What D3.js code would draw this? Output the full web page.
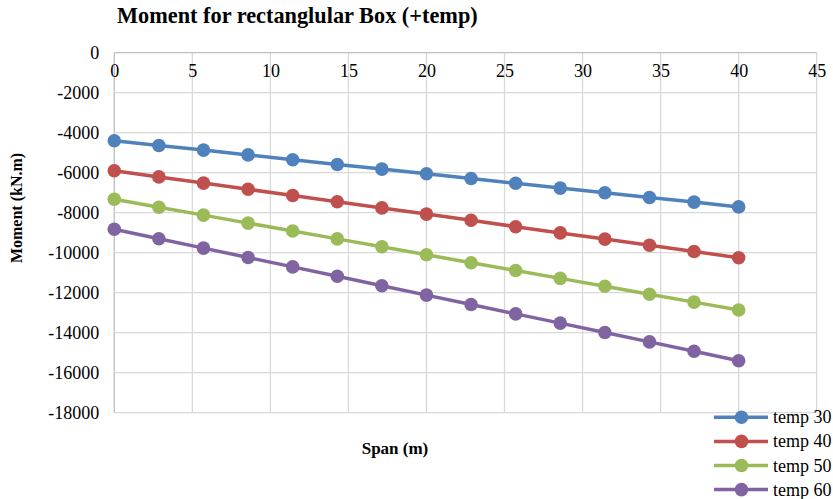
<!DOCTYPE html>
<html><head><meta charset="utf-8">
<script src="https://cdnjs.cloudflare.com/ajax/libs/d3/7.8.5/d3.min.js"></script>
<style>body{margin:0;background:#fff;}svg{display:block;font-family:"Liberation Serif","Times New Roman",serif;}</style>
</head><body>
<svg id="c" width="833" height="499"></svg>
<script>
const span = [0, 2.857, 5.714, 8.571, 11.429, 14.286, 17.143, 20, 22.857, 25.714, 28.571, 31.429, 34.286, 37.143, 40];
const temp30 = [-4400, -4640, -4870, -5110, -5350, -5590, -5820, -6050, -6290, -6530, -6770, -7000, -7240, -7470, -7710];
const temp40 = [-5900, -6210, -6520, -6830, -7140, -7450, -7760, -8070, -8380, -8700, -9010, -9320, -9630, -9940, -10250];
const temp50 = [-7330, -7725, -8120, -8520, -8915, -9310, -9705, -10100, -10500, -10890, -11285, -11680, -12075, -12470, -12865];
const temp60 = [-8830, -9300, -9770, -10240, -10710, -11180, -11650, -12120, -12590, -13060, -13520, -13990, -14460, -14930, -15400];
const seriesNames = ["temp 30", "temp 40", "temp 50", "temp 60"];
const colors = ["#4F81BD", "#C0504D", "#9BBB59", "#8064A2"];
const xTicks = [0, 5, 10, 15, 20, 25, 30, 35, 40, 45];
const yTicks = [0, -2000, -4000, -6000, -8000, -10000, -12000, -14000, -16000, -18000];
const titleText = "Moment for rectanglular Box (+temp)";
const xTitle = "Span (m)";
const yTitle = "Moment (kN.m)";

const allSeries = [temp30, temp40, temp50, temp60];
const svg = d3.select("#c");
const x = d3.scaleLinear().domain([0, 45]).range([114.3, 816.7]);
const y = d3.scaleLinear().domain([0, -18000]).range([52.7, 412.7]);
const fmt = d => String(d);
const FONT = "'Liberation Serif', 'Times New Roman', serif";

// grid
const g = svg.append("g");
g.selectAll("line.v").data(xTicks).join("line")
  .attr("x1", d => x(d)).attr("x2", d => x(d))
  .attr("y1", y(0)).attr("y2", y(-18000))
  .attr("stroke", d => d === 0 ? "#BFBFBF" : "#D9D9D9").attr("stroke-width", 1.3);
g.selectAll("line.h").data(yTicks).join("line")
  .attr("x1", x(0)).attr("x2", x(45))
  .attr("y1", d => y(d)).attr("y2", d => y(d))
  .attr("stroke", d => d === 0 ? "#BFBFBF" : "#D9D9D9").attr("stroke-width", 1.3);

// axes via d3 axis generators
const yAxis = d3.axisLeft(y).tickValues(yTicks).tickSize(0).tickPadding(15).tickFormat(fmt);
const ya = svg.append("g").attr("transform", `translate(${x(0)},0)`).call(yAxis)
  .attr("font-family", FONT).attr("font-size", 18);
ya.select(".domain").remove();
ya.selectAll("text").attr("fill", "#000");

const xAxis = d3.axisBottom(x).tickValues(xTicks).tickSize(0).tickPadding(12).tickFormat(fmt);
const xa = svg.append("g").attr("transform", `translate(0,${y(0)})`).call(xAxis)
  .attr("font-family", FONT).attr("font-size", 18);
xa.select(".domain").remove();
xa.selectAll("text").attr("fill", "#000");

// lines
const line = d3.line().x((d, i) => x(span[i])).y(d => y(d));
allSeries.forEach((s, k) => {
  svg.append("path").datum(s).attr("d", line)
    .attr("fill", "none").attr("stroke", colors[k]).attr("stroke-width", 3.5)
    .attr("stroke-linejoin", "round");
  svg.append("g").selectAll("circle").data(s).join("circle")
    .attr("cx", (d, i) => x(span[i])).attr("cy", d => y(d)).attr("r", 6.8)
    .attr("fill", colors[k]);
});

// titles
svg.append("text").attr("x", 117).attr("y", 23).attr("font-size", 22.3).attr("font-weight", "bold").text(titleText);
svg.append("text").attr("x", 395).attr("y", 454).attr("text-anchor", "middle").attr("font-size", 17).attr("font-weight", "bold").text(xTitle);
svg.append("text").attr("transform", "translate(22,208) rotate(-90)").attr("text-anchor", "middle").attr("font-size", 16).attr("font-weight", "bold").text(yTitle);

// legend
const lg = svg.append("g");
seriesNames.forEach((n, k) => {
  const cy = 417.3 + k * 24.1;
  lg.append("line").attr("x1", 714).attr("x2", 768).attr("y1", cy).attr("y2", cy).attr("stroke", colors[k]).attr("stroke-width", 3.5);
  lg.append("circle").attr("cx", 741.5).attr("cy", cy).attr("r", 6.8).attr("fill", colors[k]);
  lg.append("text").attr("x", 773).attr("y", cy + 6).attr("font-size", 18).text(n);
});
</script>
</body></html>
